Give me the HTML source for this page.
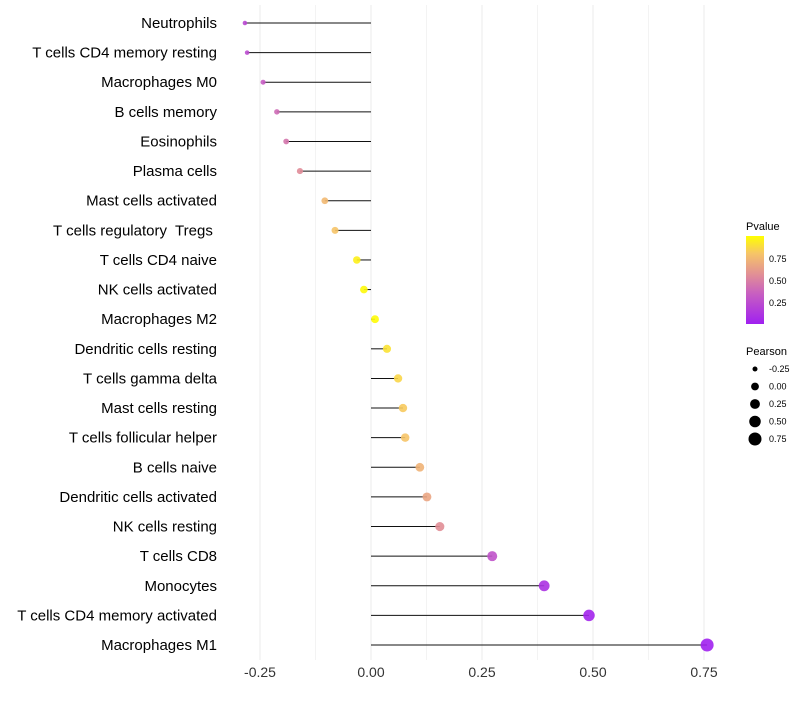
<!DOCTYPE html>
<html><head><meta charset="utf-8"><style>
body{margin:0;background:#fff;font-family:"Liberation Sans",sans-serif}
svg text{font-family:"Liberation Sans",sans-serif;white-space:pre}
</style></head><body>
<svg id="chart" width="800" height="700">
<defs><linearGradient id="pg" x1="0" y1="1" x2="0" y2="0">
<stop offset="0" stop-color="#A020F0"/><stop offset="0.35" stop-color="#C860C0"/><stop offset="0.55" stop-color="#E08C98"/><stop offset="0.8" stop-color="#F6C468"/><stop offset="1" stop-color="#FFFF00"/></linearGradient></defs>
<g id="grid"></g><g id="marks"></g><g id="labels"></g>
<g>
<text x="746" y="230" font-size="11">Pvalue</text>
<rect x="746" y="236" width="18" height="88" fill="url(#pg)"/>
<text x="769" y="262" font-size="9">0.75</text>
<text x="769" y="284" font-size="9">0.50</text>
<text x="769" y="306" font-size="9">0.25</text>
</g>
<g id="sizeleg">
<text x="746" y="355" font-size="11">Pearson</text>
</g>
</svg>
<script>
const cells=["Neutrophils","T cells CD4 memory resting","Macrophages M0","B cells memory","Eosinophils","Plasma cells","Mast cells activated","T cells regulatory  Tregs ","T cells CD4 naive","NK cells activated","Macrophages M2","Dendritic cells resting","T cells gamma delta","Mast cells resting","T cells follicular helper","B cells naive","Dendritic cells activated","NK cells resting","T cells CD8","Monocytes","T cells CD4 memory activated","Macrophages M1"];
const pearson=[-0.284,-0.279,-0.243,-0.212,-0.191,-0.160,-0.104,-0.081,-0.032,-0.016,0.009,0.036,0.061,0.072,0.077,0.110,0.126,0.155,0.273,0.390,0.491,0.757];
const pvalue=[0.22,0.24,0.33,0.4,0.45,0.55,0.75,0.8,0.95,0.98,0.99,0.9,0.86,0.82,0.8,0.72,0.66,0.56,0.28,0.1,0.03,0.01];
const xTicks=[-0.25,0,0.25,0.5,0.75];
const sizeTicks=[-0.25,0,0.25,0.5,0.75];
const NS="http://www.w3.org/2000/svg";
const xs=v=>371+v*444;
const ys=i=>23+i*29.62;
const rs=v=>Math.sqrt(Math.max(4,6.25+36*(v+0.25)));
const stops=[[0,[160,32,240]],[0.35,[200,96,192]],[0.55,[224,140,152]],[0.8,[246,196,104]],[1,[255,255,0]]];
function col(p){for(let k=1;k<stops.length;k++){if(p<=stops[k][0]){const a=stops[k-1],b=stops[k],t=(p-a[0])/(b[0]-a[0]);return "rgb("+a[1].map((c,j)=>Math.round(c+(b[1][j]-c)*t)).join(",")+")";}}return "rgb(255,255,0)";}
function mk(t,at,parent){const e=document.createElementNS(NS,t);for(const k in at)e.setAttribute(k,at[k]);parent.appendChild(e);return e;}
const g=document.getElementById("grid"),m=document.getElementById("marks"),l=document.getElementById("labels");
for(let v=-0.375;v<=0.8;v+=0.125){const x=xs(v);if(x<235||x>760)continue;
const ln=mk("line",{x1:x,x2:x,y1:5,y2:660,stroke:"#ebebeb","stroke-width":Math.abs(v/0.25-Math.round(v/0.25))<1e-6?1:0.6},g);

}
xTicks.forEach(v=>{const t=mk("text",{x:xs(v),y:677,"font-size":14,"text-anchor":"middle",fill:"#333"},l);t.textContent=v.toFixed(2);

});
cells.forEach((c,i)=>{const y=ys(i);
const t=mk("text",{x:217,y:y+5,"font-size":15,"text-anchor":"end",fill:"#000"},l);t.textContent=c;


const ln=mk("line",{x1:xs(0),x2:xs(pearson[i]),y1:y,y2:y,stroke:"#111","stroke-width":1},m);


const ci=mk("circle",{cx:xs(pearson[i]),cy:y,r:rs(pearson[i]),fill:col(pvalue[i]),"fill-opacity":0.9},m);

});
const sl=document.getElementById("sizeleg");
sizeTicks.forEach((v,k)=>{const y=369+k*17.5;
const c=mk("circle",{cx:755,cy:y,r:rs(v),fill:"#000"},sl);


const t=mk("text",{x:769,y:y+3,"font-size":9},sl);t.textContent=v.toFixed(2);

});
</script>
</body></html>
